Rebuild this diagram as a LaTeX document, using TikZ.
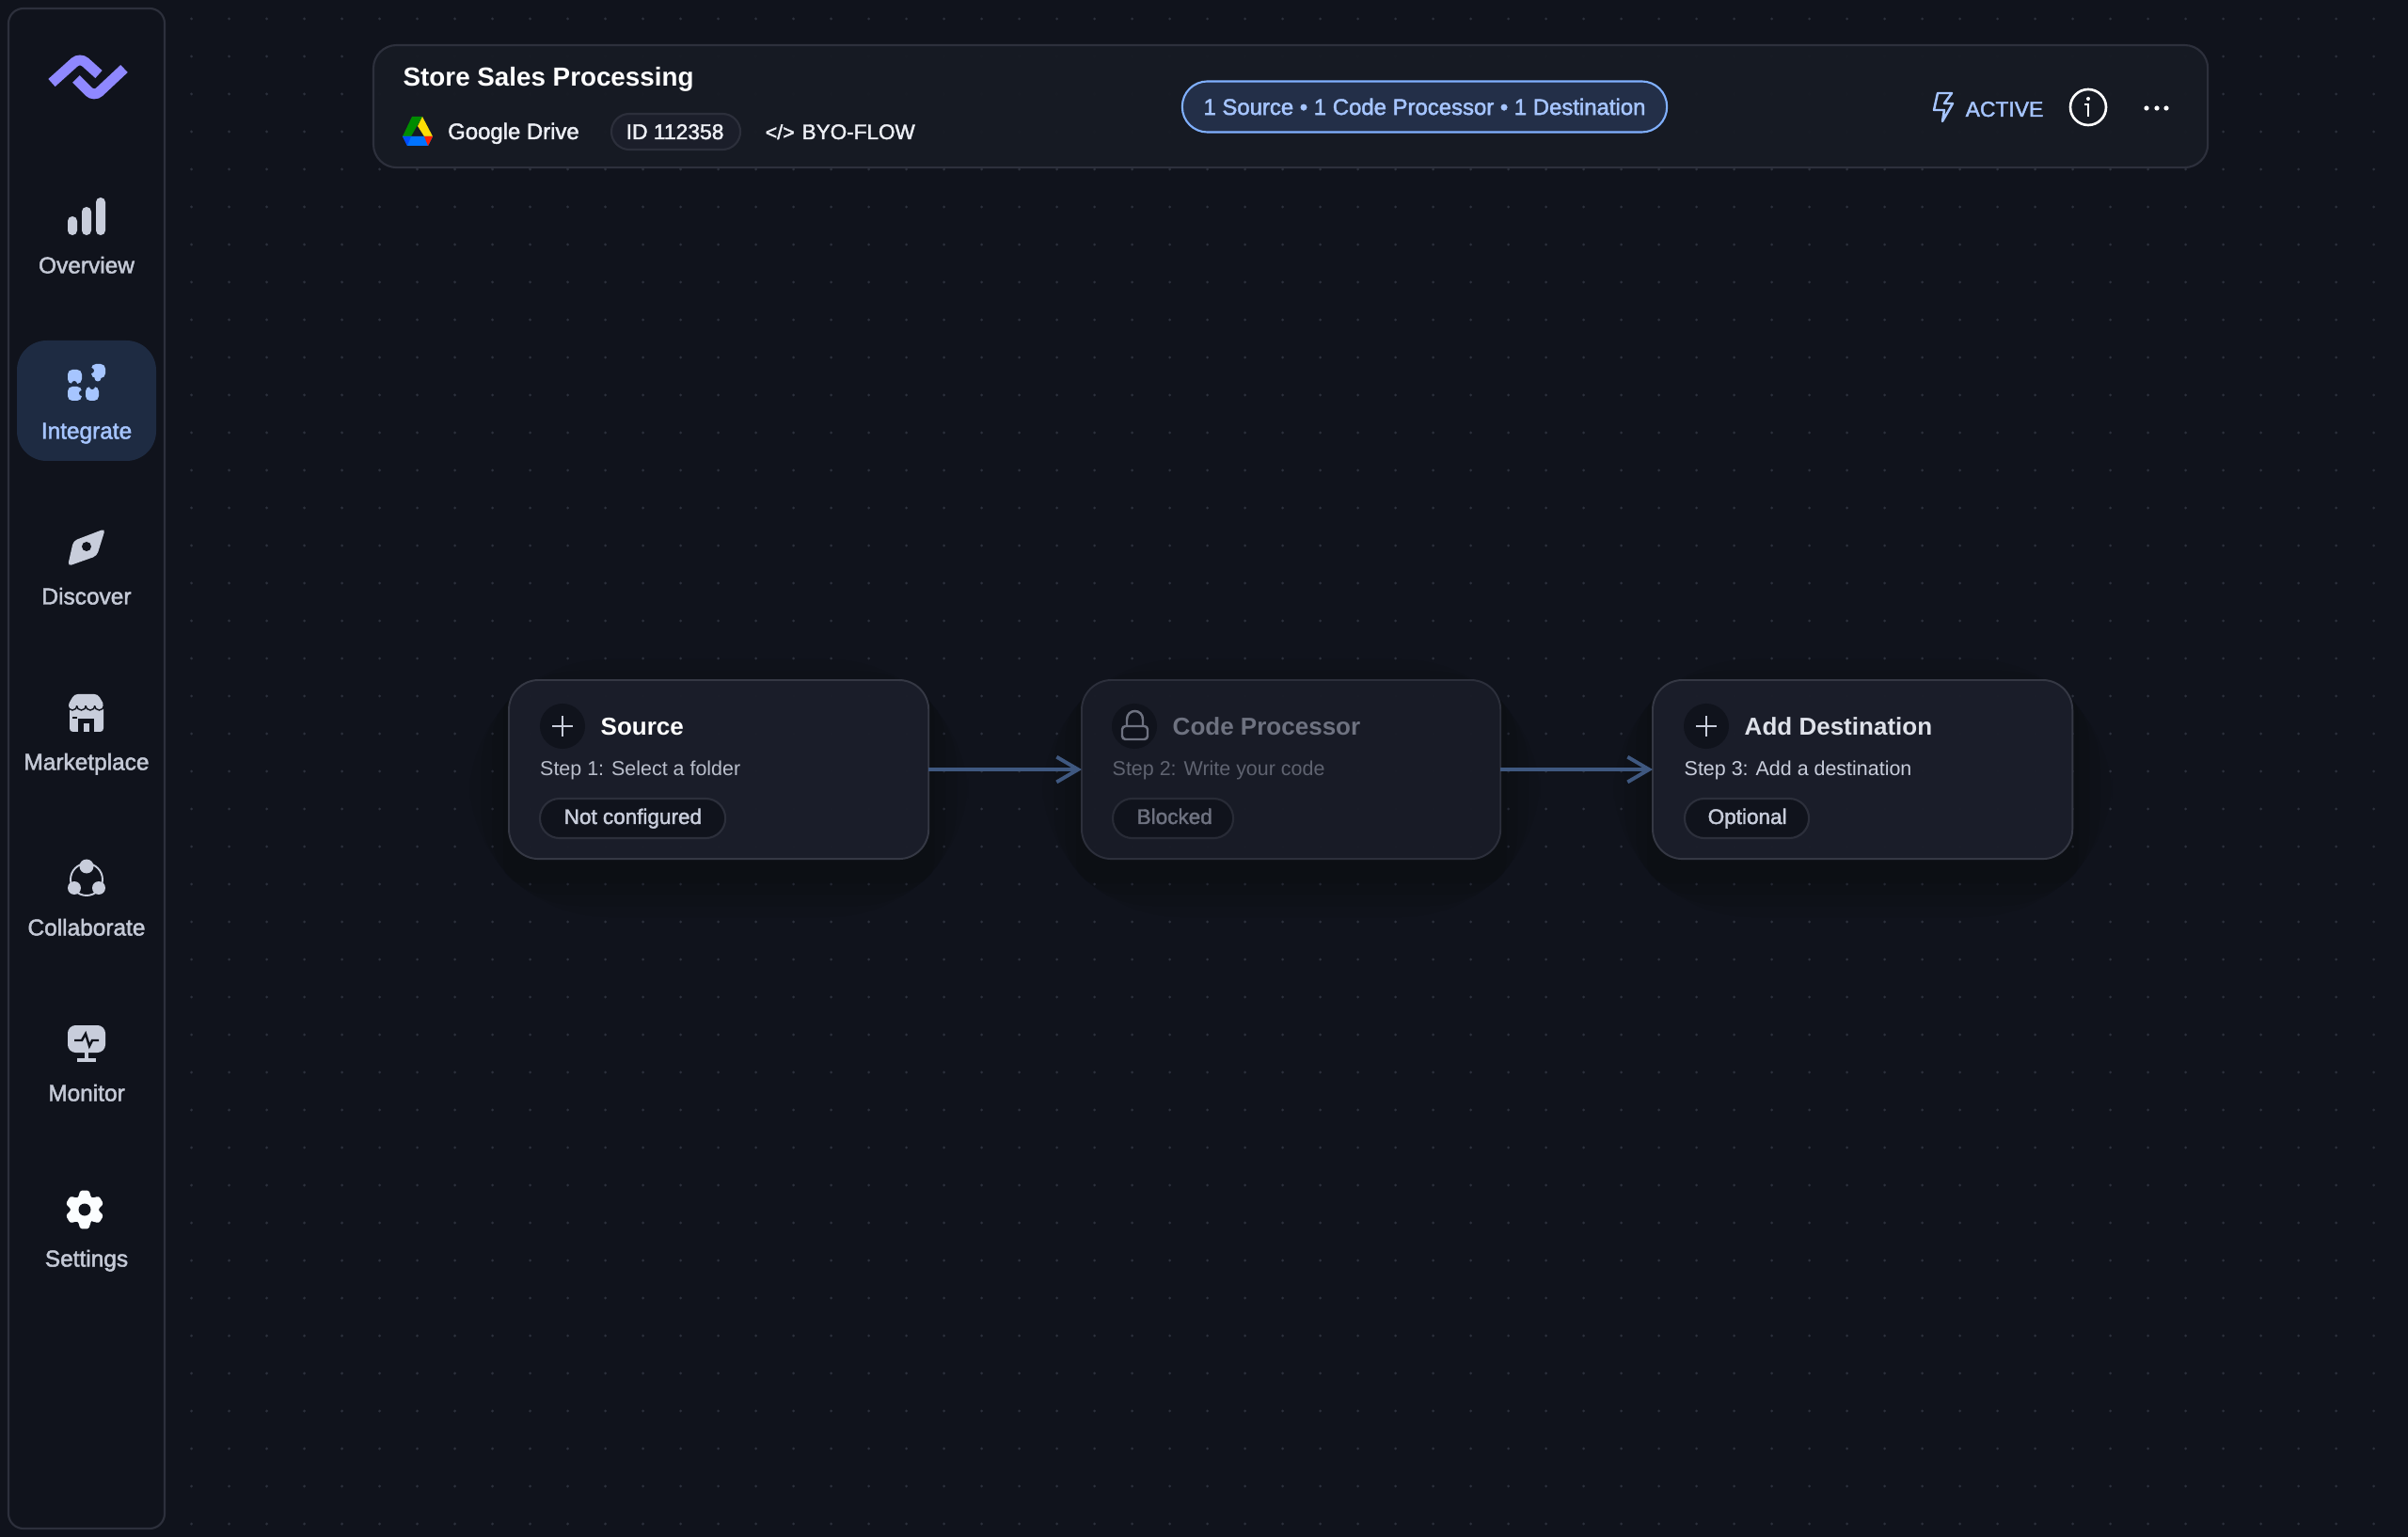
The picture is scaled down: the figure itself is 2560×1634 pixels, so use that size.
\documentclass[tikz,border=0pt]{standalone}
\usepackage{fontspec}
\setmainfont{Liberation Sans}
\newfontfamily\medfont[FakeBold=1.9]{Liberation Sans}
\usetikzlibrary{arrows.meta}
\definecolor{pagebg}{HTML}{10131C}
\definecolor{griddot}{HTML}{2C303C}
\definecolor{edgeline}{HTML}{2D303C}
\definecolor{headbg}{HTML}{171B24}
\definecolor{cardbg}{HTML}{1B1E2A}
\definecolor{cardoff}{HTML}{191C27}
\definecolor{cardline}{HTML}{353844}
\definecolor{offline}{HTML}{2C2F3B}
\definecolor{iconcol}{HTML}{C8CDDB}
\definecolor{navtext}{HTML}{C4C9D6}
\definecolor{bluehi}{HTML}{A6C5FF}
\definecolor{navhi}{HTML}{1E2B42}
\definecolor{pillbg}{HTML}{232F48}
\definecolor{pillline}{HTML}{80B0FF}
\definecolor{logocol}{HTML}{8F88FF}
\definecolor{softwhite}{HTML}{EDEFF5}
\definecolor{steptext}{HTML}{B9BECB}
\definecolor{offtext}{HTML}{6E7280}
\definecolor{offstep}{HTML}{5F6370}
\definecolor{flowcol}{HTML}{3F5880}
\tikzset{
  navlabel/.style={inner sep=0,anchor=base,text=navtext,font=\medfont\fontsize{6.95}{9}\selectfont},
  txt/.style={inner sep=0,anchor=base west,text=softwhite,font=\medfont\fontsize{6.8}{9}\selectfont},
  cardtitle/.style={txt,text=white,font=\bfseries\fontsize{7.4}{9}\selectfont},
  steptxt/.style={txt,text=steptext,font=\fontsize{6.1}{8}\selectfont},
  tagtxt/.style={txt,text=iconcol,font=\medfont\fontsize{6.4}{8}\selectfont},
  card/.style={rectangle,rounded corners=9pt,anchor=north west,inner sep=0,outer sep=0,
    minimum height=1.9cm,fill=cardbg,fill opacity=.96,text opacity=1,draw=cardline,line width=.55pt},
  tag/.style={rectangle,rounded corners=5.9pt,anchor=north west,inner sep=0,outer sep=0,
    minimum height=.42cm,fill=pagebg,draw=offline,line width=.6pt},
  badge/.style={circle,inner sep=0,outer sep=0,minimum size=.48cm,fill=pagebg},
  plusline/.style={draw=iconcol,line width=.7pt},
  dropshade/.style={fill=black,opacity=.05}
}
\begin{document}
\begin{tikzpicture}[x=.01cm,y=-.01cm,>={Straight Barb[length=6.5pt,width=7.6pt,line width=1.1pt]}]
  \fill[pagebg] (0,0) rectangle (2560,1634);
  \useasboundingbox (0,0) rectangle (2560,1634);
  \foreach \i in {0,...,58} \foreach \j in {0,...,40}
    \fill[griddot] ({203.6+40*\i},{20+40*\j}) circle[radius=1.6];

  \draw[edgeline,line width=.6pt,rounded corners=4.5pt] (9,9) rectangle (175,1625);
  \fill[navhi,rounded corners=9pt] (18,362) rectangle (166,490);

  \draw[logocol,line width=3.1pt,rounded corners=2.2pt] (55,88) -- (85,61) -- (105,79);
  \draw[logocol,line width=3.1pt,rounded corners=2.2pt] (81,84) -- (100,103) -- (132,73);

  \fill[iconcol,rounded corners=1.4pt] (72,230) rectangle (82,250);
  \fill[iconcol,rounded corners=1.4pt] (87,220) rectangle (97,250);
  \fill[iconcol,rounded corners=1.4pt] (102,210) rectangle (112,250);
  \node[navlabel] (overview) at (92,290.5) {Overview};

  \fill[bluehi,rounded corners=1.4pt] (72,393) rectangle (87,408);
  \fill[navhi] (79,408) circle[radius=3];
  \fill[bluehi,rounded corners=1.4pt] (72,411) rectangle (87,426);
  \fill[navhi] (87,418) circle[radius=3];
  \fill[bluehi,rounded corners=1.4pt] (91,411) rectangle (105,426);
  \fill[navhi] (98,411) circle[radius=3];
  \fill[bluehi,rounded corners=1.4pt] (97,387) rectangle (112,402);
  \fill[navhi] (97,394) circle[radius=3];
  \fill[bluehi] (104,402) circle[radius=3.5];
  \node[navlabel,text=bluehi] (integrate) at (92,466.5) {Integrate};

  \fill[iconcol,rounded corners=1.2pt] (112,562) -- (78,575) -- (72,602) -- (103,591) -- cycle;
  \fill[pagebg] (92,581) circle[radius=5];
  \node[navlabel] (discover) at (92,642.5) {Discover};

  \fill[iconcol,rounded corners=1pt] (74,750) rectangle (110,778);
  \foreach \x in {77,86.5,96,105.5}
    \filldraw[fill=iconcol,draw=pagebg,line width=.4pt] (\x,750) circle[radius=5];
  \fill[iconcol,rounded corners=1pt] (79,738) -- (104,738) -- (111,750) -- (72,750) -- cycle;
  \fill[pagebg] (83,764) rectangle (100,778);
  \fill[iconcol] (89,769) rectangle (95,778);
  \fill[pagebg] (77,762) rectangle (82,764);
  \node[navlabel] (marketplace) at (92,818.5) {Marketplace};

  \draw[iconcol,line width=.55pt] (92,935) circle[radius=17];
  \fill[iconcol] (92,921) circle[radius=7.5];
  \fill[iconcol] (79,944) circle[radius=7];
  \fill[iconcol] (105,944) circle[radius=7];
  \node[navlabel] (collaborate) at (92,994.5) {Collaborate};

  \fill[iconcol,rounded corners=2.4pt] (72,1090) rectangle (112,1119);
  \draw[pagebg,line width=.7pt] (79,1106) -- (87,1106) -- (91,1099) -- (95,1112) -- (98,1106) -- (105,1106);
  \draw[iconcol,line width=.9pt] (92,1119) -- (92,1126);
  \draw[iconcol,line width=.9pt] (82,1127) -- (102,1127);
  \node[navlabel] (monitor) at (92,1170.5) {Monitor};

  \begin{scope}[shift={(90,1286)}]
    \fill[white!96!bluehi,rounded corners=.7pt] (77:20)
      \foreach \a in {77,137,197,257,317,17} { -- (\a:21) -- (\a+26:21) -- (\a+43:14) };
    \fill[pagebg] (0,0) circle[radius=6.5];
  \end{scope}
  \node[navlabel] (settings) at (92,1346.5) {Settings};

  \node[rectangle,rounded corners=7pt,anchor=north west,inner sep=0,outer sep=0,minimum width=19.49cm,
    minimum height=1.3cm,fill=headbg,fill opacity=.97,draw=edgeline,line width=.6pt] (header) at (397,48) {};
  \node[txt,text=white,font=\bfseries\fontsize{7.9}{10}\selectfont] (flowname) at (428,92) {Store Sales Processing};

  \fill[fill=green!55!black] (438,124) -- (449,124) -- (437,145) -- (428,145) -- cycle;
  \fill[fill=yellow!80!orange] (449,124) -- (460,145) -- (451,145) -- (444,134) -- cycle;
  \fill[fill=blue!55!cyan] (428,145) -- (460,145) -- (455,155) -- (433,155) -- cycle;
  \fill[fill=red!75!orange] (451,145) -- (460,145) -- (455,155) -- cycle;
  \fill[fill=blue!70!cyan] (428,145) -- (437,145) -- (433,155) -- cycle;
  \node[txt] (drivename) at (475.5,148) {Google Drive};

  \node[tag,rounded corners=5.4pt,minimum width=1.37cm,minimum height=.38cm,fill=cardbg] (idtag) at (650,121) {};
  \node[txt,font=\medfont\fontsize{6.5}{8}\selectfont] (idtext) at (665,148) {ID 112358};
  \node[txt,font=\medfont\fontsize{6.1}{8}\selectfont] (codemark) at (813,148) {</>};
  \node[txt,font=\medfont\fontsize{6.4}{8}\selectfont] (byoflow) at (852,148) {BYO-FLOW};

  \node[rectangle,rounded corners=7.6pt,anchor=center,inner sep=0,outer sep=0,minimum width=5.15cm,
    minimum height=.54cm,fill=pillbg,draw=pillline,line width=.6pt,text=bluehi,
    font=\medfont\fontsize{6.8}{8}\selectfont] (summary) at (1514.5,113.5) {1 Source • 1 Code Processor • 1 Destination};

  \draw[bluehi,line width=.7pt,line join=round] (2060,99) -- (2075,99) -- (2067,110) -- (2076,110) -- (2065,129) -- (2067,117) -- (2056,117) -- cycle;
  \node[txt,text=bluehi,font=\medfont\fontsize{6.5}{8}\selectfont] (status) at (2089,124) {ACTIVE};
  \draw[white,line width=.75pt] (2220,114) circle[radius=19];
  \fill[white] (2220,105) circle[radius=2];
  \draw[white,line width=.75pt] (2216,111) -- (2220,111) -- (2220,124);
  \fill[white] (2282,115) circle[radius=2.6];
  \fill[white] (2293,115) circle[radius=2.6];
  \fill[white] (2303,115) circle[radius=2.6];

  \foreach \x/\w in {541/446,1150/445,1757/446}
    \foreach \s [evaluate=\s as \r using 9+.15*\s] in {42,30,18,6}
      \fill[dropshade,rounded corners=\r pt] ({\x-\s},{743-\s}) rectangle ({\x+\w+\s},{933+\s});

  \node[card,minimum width=4.46cm] (source) at (541,723) {};
  \node[badge] (sourcebadge) at (598,772) {};
  \draw[plusline] (587,772) -- (609,772);
  \draw[plusline] (598,761) -- (598,783);
  \node[cardtitle] (sourcetitle) at (638,782) {Source};
  \node[steptxt] (sourcestep) at (573.5,824) {Step 1: Select a folder};
  \node[tag,minimum width=1.97cm] (sourcetag) at (574,849) {};
  \node[tagtxt] (sourcestate) at (599,876) {Not configured};

  \node[card,minimum width=4.45cm,fill=cardoff,draw=offline] (code) at (1150,723) {};
  \node[badge] (codebadge) at (1206,772) {};
  \draw[offtext,line width=.7pt,rounded corners=1pt] (1193,772) rectangle (1220,786);
  \draw[offtext,line width=.7pt] (1198,772) -- (1198,765) .. controls (1198,753) and (1215,753) .. (1215,765) -- (1215,772);
  \node[cardtitle,text=offtext] (codetitle) at (1246,782) {Code Processor};
  \node[steptxt,text=offstep] (codestep) at (1182,824) {Step 2: Write your code};
  \node[tag,minimum width=1.28cm,draw=offline!85!pagebg] (codetag) at (1183,849) {};
  \node[tagtxt,text=offtext] (codestate) at (1208,876) {Blocked};

  \node[card,minimum width=4.46cm] (dest) at (1757,723) {};
  \node[badge] (destbadge) at (1814,772) {};
  \draw[plusline] (1803,772) -- (1825,772);
  \draw[plusline] (1814,761) -- (1814,783);
  \node[cardtitle,text=iconcol!60!white] (desttitle) at (1854,782) {Add Destination};
  \node[steptxt,text=iconcol] (deststep) at (1790,824) {Step 3: Add a destination};
  \node[tag,minimum width=1.32cm] (desttag) at (1791,849) {};
  \node[tagtxt] (deststate) at (1815,876) {Optional};

  \draw[->,flowcol,line width=1.1pt] (source) -- (code);
  \draw[->,flowcol,line width=1.1pt] (code) -- (dest);
\end{tikzpicture}
\end{document}
